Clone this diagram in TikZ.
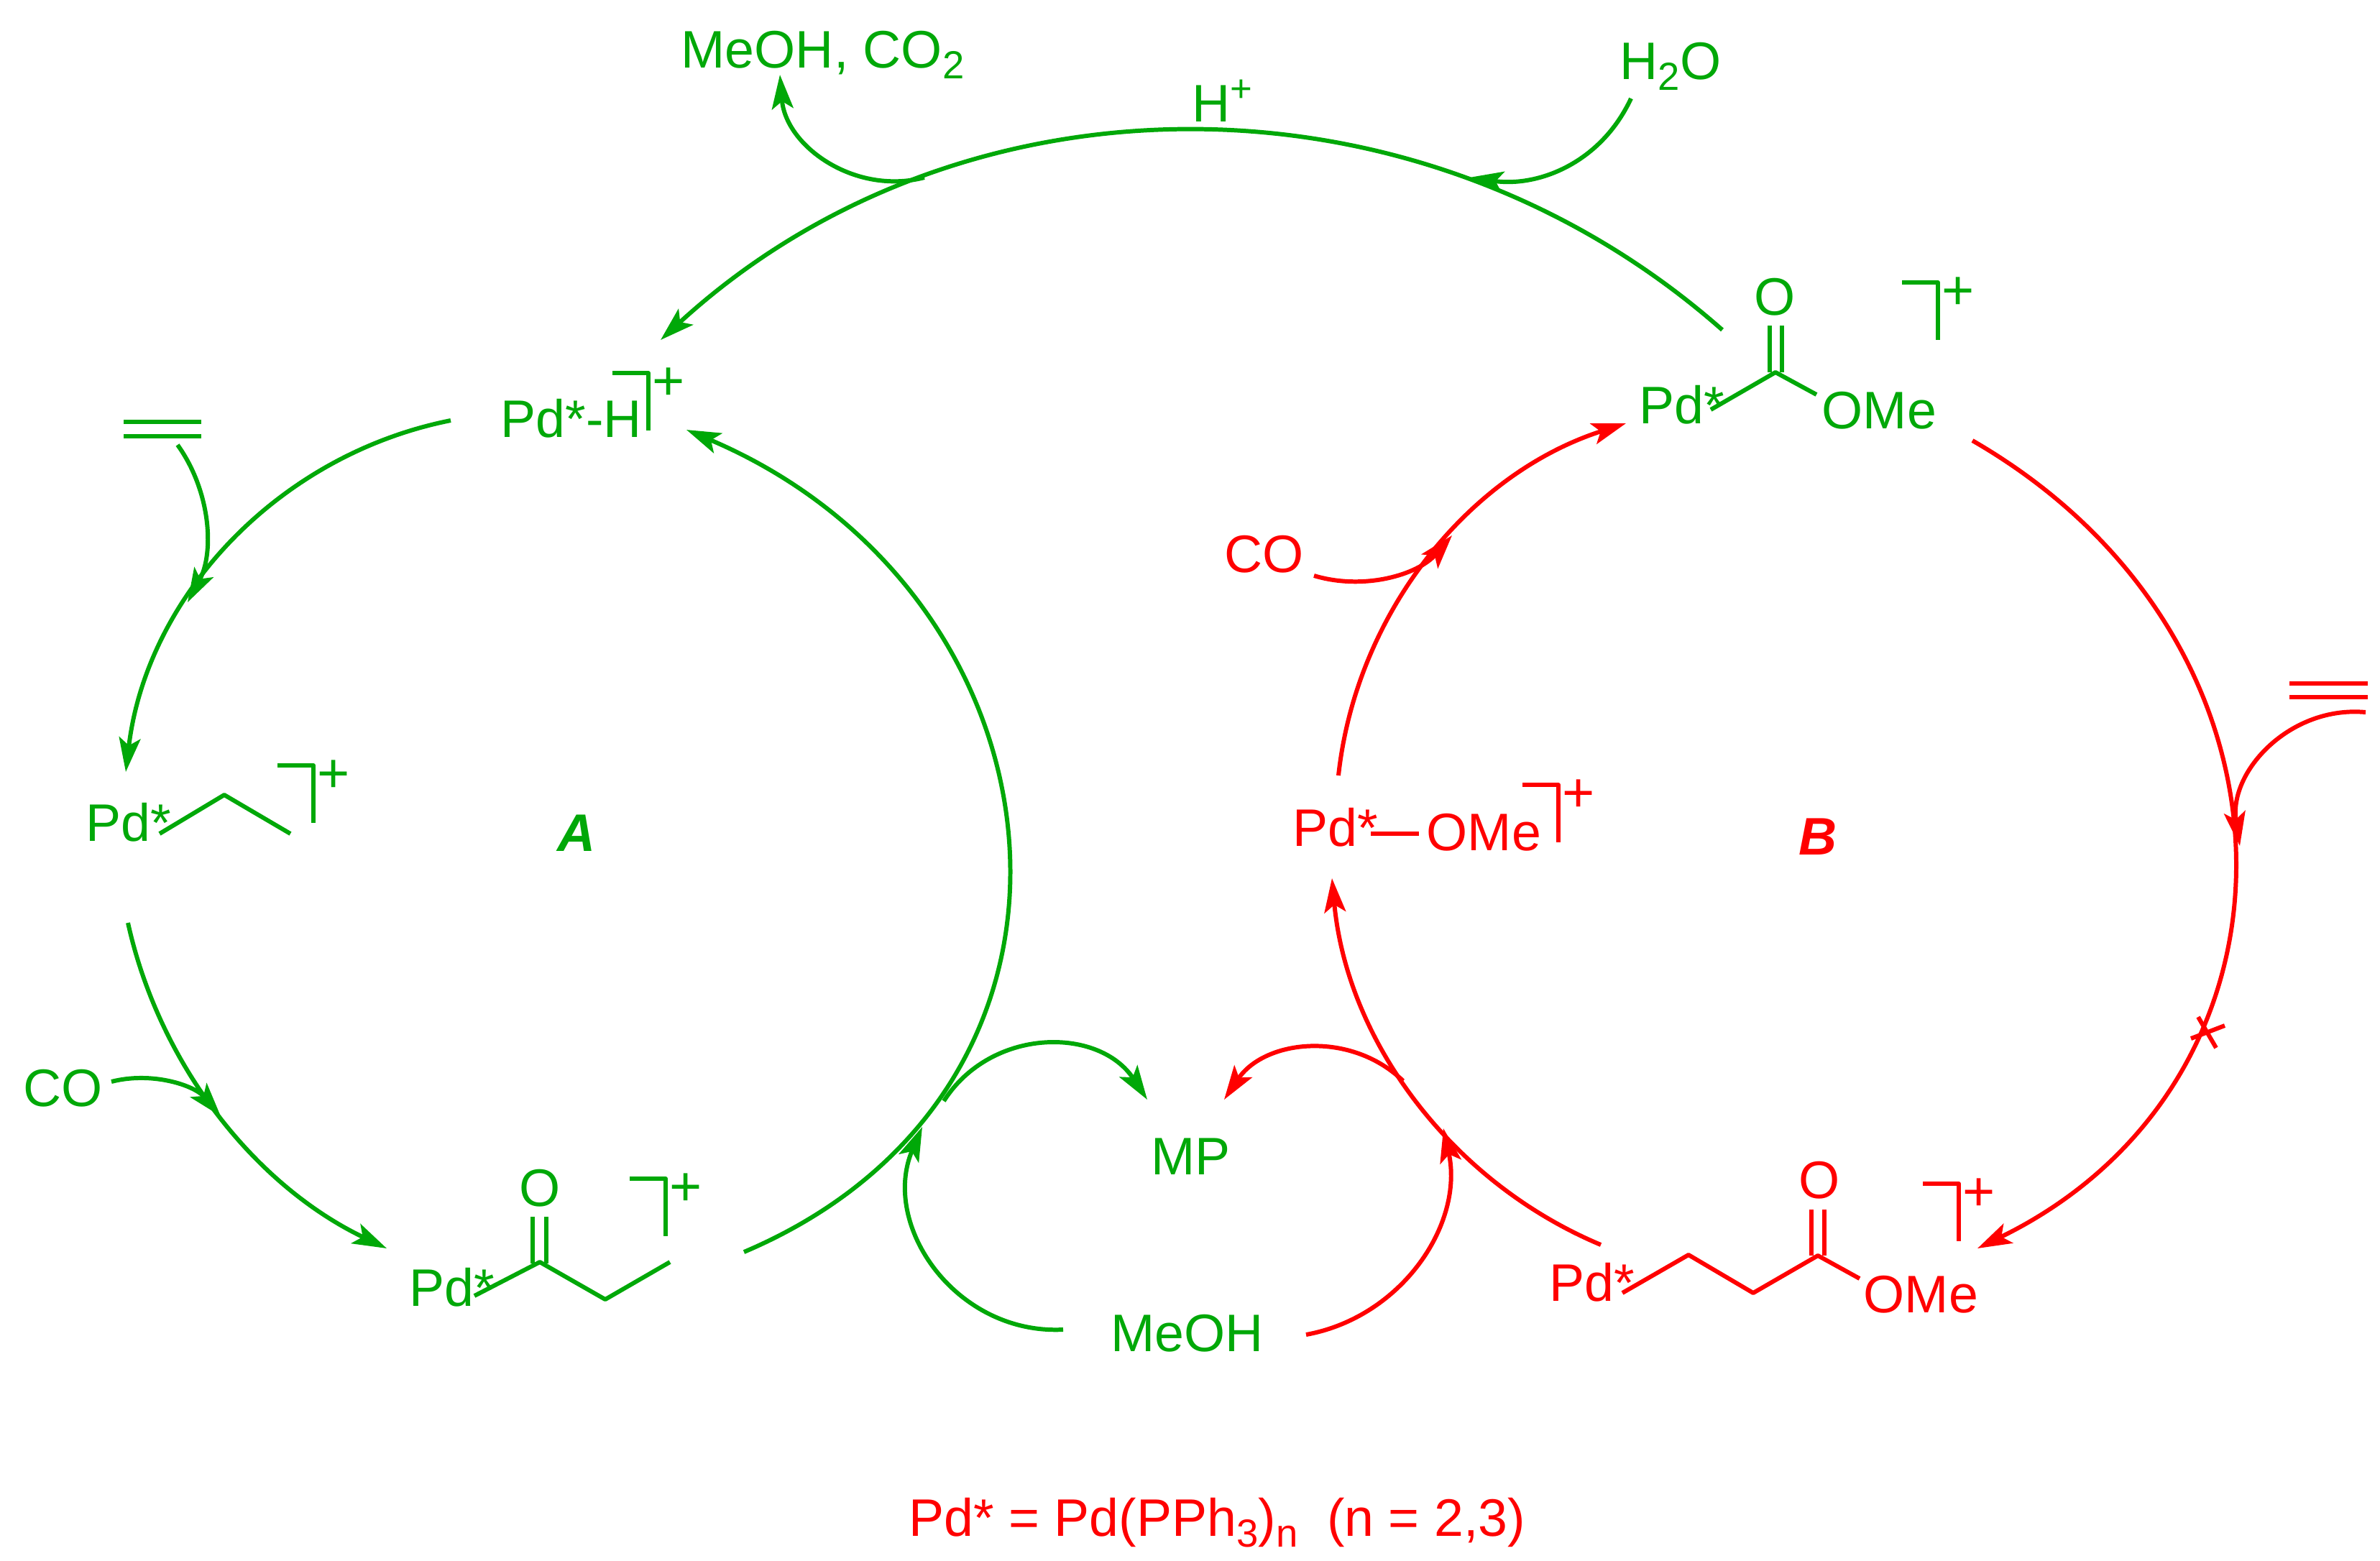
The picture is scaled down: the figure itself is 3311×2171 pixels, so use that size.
\documentclass[tikz,border=0pt]{standalone}
\usepackage{fontspec}
\setmainfont{Liberation Sans}
\usetikzlibrary{arrows.meta}
\definecolor{cyclegreen}{RGB}{0,168,8}
\definecolor{cyclered}{RGB}{255,0,0}
\newcommand{\chemsub}[1]{\raisebox{-4.5pt}{\fontsize{15.5}{16}\selectfont #1}}
\newcommand{\chemsup}[1]{\raisebox{7.8pt}{\fontsize{15}{16}\selectfont #1}}
\tikzset{
  chem/.style={
    inner sep=0pt,
    anchor=base west,
    xshift=-.03cm,
    font=\fontsize{20.9}{24}\selectfont,
  },
  bond/.style={
    line width=1.7pt,
    line join=round,
  },
  step arrow/.style={
    line width=1.7pt,
    -{Stealth[length=13.5pt,width=8.5pt,inset=3pt]},
  },
  sweep/.code={
    \pgfmathsetmacro{\sweeploose}{1.703/(1+cos(#1))}
    \tikzset{bend left=#1,looseness=\sweeploose}
  }
}
\begin{document}
\begin{tikzpicture}[x=.01cm,y=-.01cm]
\useasboundingbox (0,0) rectangle (3311,2171);
% free ends of the arrows
\coordinate (topR) at (2396,459);
\coordinate (topL) at (919,473);
\coordinate (topOut) at (1286,247);
\coordinate (outTip) at (1085,104);
\coordinate (waterS) at (2269,137);
\coordinate (waterT) at (2044,247);
\coordinate (hydrideS) at (627,585);
\coordinate (ethylT) at (175,1074);
\coordinate (eneGS) at (247,619);
\coordinate (eneGT) at (261,838);
\coordinate (ethylS) at (178,1284);
\coordinate (acylT) at (538,1737);
\coordinate (coGS) at (155,1505);
\coordinate (coGT) at (307,1553);
\coordinate (acylS) at (1035,1742);
\coordinate (hydrideT) at (955,598);
\coordinate (meohGS) at (1479,1850);
\coordinate (meohGT) at (1283,1568);
\coordinate (mpGS) at (1313,1532);
\coordinate (mpGT) at (1596,1530);
\coordinate (meohRS) at (1817,1857);
\coordinate (meohRT) at (2008,1570);
\coordinate (mpRS) at (1952,1504);
\coordinate (mpRT) at (1703,1530);
\coordinate (esterS) at (2227,1732);
\coordinate (methoxyT) at (1853,1222);
\coordinate (methoxyS) at (1862,1079);
\coordinate (carboT) at (2262,589);
\coordinate (coRS) at (1828,801);
\coordinate (coRT) at (2020,745);
\coordinate (carboS) at (2744,613);
\coordinate (esterT) at (2751,1737);
\coordinate (eneRS) at (3291,991);
\coordinate (eneRT) at (3116,1177);
% green cycle
\begin{scope}[color=cyclegreen,text=cyclegreen]
\node[chem] (products) at (950,94) {MeOH, CO\chemsub{2}};
\node[chem] (water) at (2256,110) {H\chemsub{2}O};
\node[chem] (proton) at (1661,169) {H\chemsup{+}};
\node[chem] (hydride) at (699,608) {Pd*-H};
\node[chem] (ethyl) at (122,1170) {Pd*};
\node[chem] (coG) at (35,1539) {CO};
\node[chem] (acyl) at (572,1817) {Pd*};
\node[chem] (acylO) at (725,1678) {O};
\node[chem] (mp) at (1604,1634) {MP};
\node[chem] (meoh) at (1548,1880) {MeOH};
\node[chem] (carbo) at (2283,589) {Pd*};
\node[chem] (carboO) at (2443,438) {O};
\node[chem] (carboMe) at (2537,596) {OMe};
\node[chem,font=\fontsize{20.9}{24}\selectfont\bfseries\itshape] (cycleA) at (778,1184) {A};
\draw[step arrow] (topR) to[sweep=-42] (topL);
\draw[step arrow] (topOut) to[sweep=50] (outTip);
\draw[step arrow] (waterS) to[out=-115,in=-8,looseness=1] (waterT);
\draw[step arrow] (hydrideS) to[sweep=-36] (ethylT);
\draw[step arrow] (eneGS) to[sweep=32] (eneGT);
\draw[step arrow] (ethylS) to[sweep=-26] (acylT);
\draw[step arrow] (coGS) to[sweep=32] (coGT);
\draw[step arrow] (acylS) to[out=23,in=-23,looseness=1.31] (hydrideT);
\draw[step arrow] (meohGS) to[sweep=58] (meohGT);
\draw[step arrow] (mpGS) to[sweep=57] (mpGT);
\draw[bond] (172,587) -- (280,587) (172,607) -- (280,607);
\draw[bond] (222,1160) -- (312,1106) -- (404,1160);
\draw[bond] (660,1803) -- (751,1756) -- (842,1808) -- (932,1756);
\draw[bond] (741,1758) -- (741,1693) (760,1758) -- (760,1693);
\draw[bond] (2380,570) -- (2470,518) -- (2527,549);
\draw[bond] (2462,518) -- (2462,453) (2479,518) -- (2479,453);
\end{scope}
% red cycle
\begin{scope}[color=cyclered,text=cyclered]
\node[chem] (ester) at (2158,1810) {Pd*};
\node[chem] (esterO) at (2505,1667) {O};
\node[chem] (esterMe) at (2595,1826) {OMe};
\node[chem] (methoxy) at (1801,1177) {Pd*};
\node[chem] (methoxyMe) at (1987,1183) {OMe};
\node[chem] (coR) at (1706,796) {CO};
\node[chem,font=\fontsize{20.9}{24}\selectfont\bfseries\itshape] (cycleB) at (2505,1189) {B};
\node[chem] (legend) at (1267,2137) {Pd* = Pd(PPh\chemsub{3})\chemsub{n}\ \ (n = 2,3)};
\draw[step arrow] (meohRS) to[sweep=-46] (meohRT);
\draw[step arrow] (mpRS) to[sweep=-50] (mpRT);
\draw[step arrow] (esterS) to[sweep=31] (methoxyT);
\draw[step arrow] (methoxyS) to[sweep=33] (carboT);
\draw[step arrow] (coRS) to[sweep=-33] (coRT);
\draw[step arrow] (carboS) to[out=-30,in=26,out looseness=1.27,in looseness=1.2] (esterT);
\draw[step arrow] (eneRS) to[sweep=-52] (eneRT);
\draw[bond] (3185,951) -- (3294,951) (3185,970) -- (3294,970);
\draw[bond] (1907,1160) -- (1974,1160);
\draw[bond] (2257,1799) -- (2349,1746) -- (2439,1799) -- (2529,1747) -- (2587,1779);
\draw[bond] (2520,1747) -- (2520,1683) (2538,1747) -- (2538,1683);
\draw[bond] (3058,1415) -- (3083,1458) (3048,1445) -- (3095,1427);
\end{scope}
% charge brackets
\foreach \name/\x/\y/\colour in {%
  hydride/902/519/cyclegreen,
  ethyl/436/1065/cyclegreen,
  acyl/926/1640/cyclegreen,
  carbo/2696/393/cyclegreen,
  methoxy/2168/1092/cyclered,
  ester/2725/1647/cyclered%
} {
  \draw[bond,color=\colour] (\x-50,\y) -- (\x,\y) -- (\x,\y+80);
  \node[chem,anchor=center,xshift=.03cm,font=\fontsize{22}{24}\selectfont,text=\colour] (charge\name) at (\x+28,\y+15) {+};
}
\end{tikzpicture}
\end{document}
